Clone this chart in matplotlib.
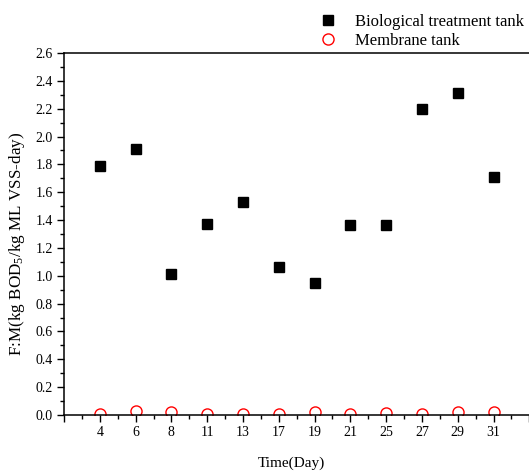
import numpy as np
import matplotlib
matplotlib.use('Agg')
import matplotlib.pyplot as plt
from matplotlib.ticker import MultipleLocator, FixedLocator, FormatStrFormatter

plt.rcParams['font.family'] = ['Liberation Serif', 'DejaVu Serif']
plt.rcParams['mathtext.fontset'] = 'custom'
plt.rcParams['mathtext.rm'] = 'Liberation Serif'
plt.rcParams['mathtext.it'] = 'Liberation Serif:italic'

# sampling days and F:M ratios
days = ['4', '6', '8', '11', '13', '17', '19', '21', '25', '27', '29', '31']
bio_tank = [1.79, 1.91, 1.01, 1.37, 1.53, 1.06, 0.95, 1.365, 1.365, 2.20, 2.31, 1.71]
membrane_tank = [0.01, 0.03, 0.02, 0.005, 0.01, 0.01, 0.02, 0.01, 0.015, 0.005, 0.02, 0.02]

x = np.arange(1, len(days) + 1)

fig = plt.figure(figsize=(5.29, 4.72), dpi=100)
ax = fig.add_axes([0.121, 0.1208, 0.90, 0.767])

ax.plot(x, bio_tank, linestyle='none', marker='s', color='black', markersize=7.5,
        label='Biological treatment tank')
ax.plot(x, membrane_tank, linestyle='none', marker='o', markerfacecolor='none',
        markeredgecolor='red', markeredgewidth=1.0, markersize=8,
        label='Membrane tank')

ax.set_xlim(0, 13.3)
ax.set_ylim(0, 2.6)

ax.xaxis.set_major_locator(FixedLocator(np.arange(0, 14)))
ax.set_xticklabels([''] + days + [''])
ax.xaxis.set_minor_locator(MultipleLocator(0.5))
ax.yaxis.set_major_locator(MultipleLocator(0.2))
ax.yaxis.set_minor_locator(MultipleLocator(0.1))
ax.yaxis.set_major_formatter(FormatStrFormatter('%.1f'))

ax.tick_params(which='major', direction='out', length=5, width=1, labelsize=10, pad=3)
ax.tick_params(which='minor', direction='out', length=3, width=1)
ax.tick_params(axis='x', which='major', pad=3)
for s in ax.spines.values():
    s.set_linewidth(1.1)

ax.set_xlabel('Time(Day)', fontsize=11)
ax.xaxis.set_label_coords(0.477, -0.116)
ax.set_ylabel('F:M(kg BOD$_5$/kg ML VSS-day)', fontsize=12.3)
ax.yaxis.set_label_coords(-0.078, 0.472)

fig.legend(loc='upper left', bbox_to_anchor=(0.582, 0.996), frameon=False,
           fontsize=12, handletextpad=1.1, labelspacing=0.22, handlelength=1.0,
           borderaxespad=0.3)

fig.savefig('out.png', dpi=100)
